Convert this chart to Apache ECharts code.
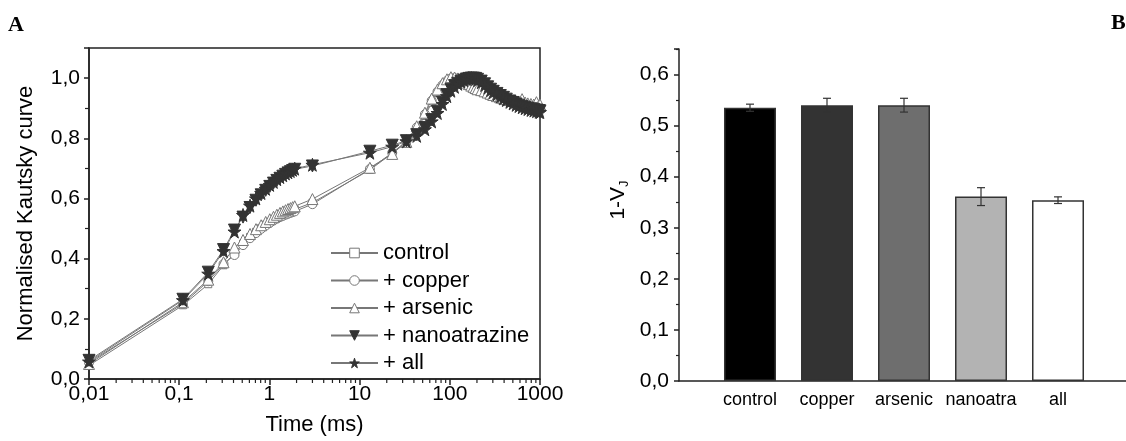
<!DOCTYPE html>
<html>
<head>
<meta charset="utf-8">
<script src="https://cdn.jsdelivr.net/npm/echarts@6/dist/echarts.min.js"></script>
<style>
  html, body { margin: 0; padding: 0; background: #fff; }
  #chart { width: 1126px; height: 441px; }
</style>
</head>
<body>
<div id="chart"></div>
<script>
// panel A: time axis of the fluorescence transient (ms)
const timeMs = [0.01, 0.11, 0.21, 0.31, 0.41, 0.51, 0.61, 0.71, 0.81, 0.91,
  1.01, 1.11, 1.21, 1.31, 1.41, 1.51, 1.61, 1.71, 1.81, 1.91,
  3, 13, 23, 33, 43, 53, 63, 73, 83, 93,
  103, 113, 123, 133, 143, 153, 163, 173, 183, 193,
  203, 223, 243, 263, 283, 303, 333, 363, 393, 423,
  463, 503, 543, 583, 633, 683, 733, 793, 853, 913, 973, 1000];

const control = [0.045, 0.245, 0.315, 0.378, 0.418, 0.450, 0.472, 0.489, 0.502, 0.513,
  0.522, 0.530, 0.536, 0.542, 0.547, 0.551, 0.555, 0.558, 0.561, 0.564,
  0.586, 0.695, 0.750, 0.787, 0.832, 0.874, 0.918, 0.950, 0.973, 0.988,
  0.997, 1.000, 0.999, 0.996, 0.992, 0.988, 0.983, 0.978, 0.973, 0.969,
  0.965, 0.958, 0.952, 0.947, 0.943, 0.939, 0.935, 0.931, 0.928, 0.925,
  0.922, 0.919, 0.917, 0.915, 0.913, 0.911, 0.909, 0.907, 0.905, 0.903, 0.902, 0.901];

const copper = [0.055, 0.250, 0.325, 0.382, 0.412, 0.445, 0.468, 0.485, 0.499, 0.510,
  0.519, 0.527, 0.533, 0.538, 0.542, 0.546, 0.549, 0.552, 0.555, 0.557,
  0.581, 0.698, 0.752, 0.790, 0.836, 0.880, 0.925, 0.955, 0.977, 0.991,
  0.999, 1.000, 0.998, 0.995, 0.991, 0.986, 0.981, 0.976, 0.972, 0.968,
  0.963, 0.956, 0.950, 0.945, 0.941, 0.937, 0.933, 0.929, 0.926, 0.923,
  0.920, 0.917, 0.915, 0.913, 0.911, 0.909, 0.907, 0.905, 0.903, 0.901, 0.900, 0.899];

const arsenic = [0.050, 0.255, 0.330, 0.388, 0.437, 0.462, 0.482, 0.498, 0.511, 0.522,
  0.531, 0.539, 0.546, 0.552, 0.557, 0.561, 0.565, 0.568, 0.571, 0.574,
  0.598, 0.702, 0.748, 0.788, 0.840, 0.885, 0.932, 0.962, 0.983, 0.996,
  1.003, 1.002, 0.999, 0.995, 0.990, 0.985, 0.980, 0.975, 0.971, 0.967,
  0.963, 0.960, 0.956, 0.952, 0.948, 0.944, 0.940, 0.936, 0.933, 0.930,
  0.927, 0.925, 0.923, 0.921, 0.930, 0.919, 0.916, 0.914, 0.912, 0.920, 0.910, 0.912];

const nanoatrazine = [0.062, 0.265, 0.355, 0.430, 0.495, 0.538, 0.570, 0.594, 0.612, 0.627,
  0.640, 0.651, 0.660, 0.667, 0.674, 0.680, 0.685, 0.689, 0.693, 0.697,
  0.708, 0.757, 0.777, 0.792, 0.812, 0.836, 0.862, 0.890, 0.920, 0.945,
  0.963, 0.975, 0.983, 0.989, 0.993, 0.997, 0.999, 1.000, 1.000, 0.999,
  0.996, 0.990, 0.981, 0.971, 0.963, 0.956, 0.949, 0.942, 0.936, 0.930,
  0.924, 0.919, 0.914, 0.910, 0.906, 0.903, 0.900, 0.898, 0.896, 0.894, 0.892, 0.891];

const allTreat = [0.058, 0.262, 0.350, 0.425, 0.490, 0.545, 0.576, 0.600, 0.618, 0.632,
  0.645, 0.655, 0.664, 0.671, 0.677, 0.683, 0.687, 0.691, 0.695, 0.699,
  0.712, 0.752, 0.772, 0.790, 0.808, 0.830, 0.856, 0.884, 0.914, 0.940,
  0.958, 0.971, 0.981, 0.988, 0.993, 0.997, 1.000, 1.000, 0.999, 0.997,
  0.993, 0.986, 0.977, 0.968, 0.960, 0.953, 0.946, 0.939, 0.933, 0.927,
  0.921, 0.916, 0.911, 0.907, 0.903, 0.900, 0.897, 0.894, 0.892, 0.890, 0.888, 0.887];

const legendNames = ['control', '+ copper', '+ arsenic', '+ nanoatrazine', '+ all'];

// minor ticks of the log time axis
const timeMinorTicks = [0.02, 0.03, 0.04, 0.05, 0.06, 0.07, 0.08, 0.09,
  0.2, 0.3, 0.4, 0.5, 0.6, 0.7, 0.8, 0.9,
  2, 3, 4, 5, 6, 7, 8, 9,
  20, 30, 40, 50, 60, 70, 80, 90,
  200, 300, 400, 500, 600, 700, 800, 900];

// panel B: 1-VJ
const barCats = ['control', 'copper', 'arsenic', 'nanoatra', 'all'];
const barValues = [0.535, 0.540, 0.540, 0.361, 0.354];
const barErrors = [0.007, 0.0135, 0.0135, 0.0175, 0.0065];

const barColors = ['#000000', '#333333', '#6e6e6e', '#b3b3b3', '#ffffff'];
const FONT = 'Liberation Sans';
const STAR = 'path://M50,0 L61,35 L98,35 L68,57 L79,91 L50,70 L21,91 L32,57 L2,35 L39,35 Z';

const comma = (v, d) => (d == null ? String(Number(v.toPrecision(6))) : v.toFixed(d)).replace('.', ',');

const lineStyles = [
  { symbol: 'rect', size: 7, fill: '#fff', stroke: '#777', rot: 0 },
  { symbol: 'circle', size: 9, fill: '#fff', stroke: '#777', rot: 0 },
  { symbol: 'triangle', size: 11, fill: '#fff', stroke: '#777', rot: 0 },
  { symbol: 'triangle', size: 12, fill: '#333', stroke: '#333', rot: 180 },
  { symbol: STAR, size: 13, fill: '#333', stroke: '#333', rot: 0 }
];
const lineData = [control, copper, arsenic, nanoatrazine, allTreat];

const lineSeries = lineData.map((vals, i) => ({
  name: legendNames[i],
  type: 'line',
  xAxisIndex: 0,
  yAxisIndex: 0,
  data: timeMs.map((t, j) => [t, vals[j]]),
  symbol: lineStyles[i].symbol,
  symbolSize: lineStyles[i].size,
  symbolRotate: lineStyles[i].rot,
  showAllSymbol: true,
  lineStyle: { color: '#777', width: 1 },
  itemStyle: { color: lineStyles[i].fill, borderColor: lineStyles[i].stroke, borderWidth: 1 },
  emphasis: { disabled: true }
}));

const axisLine = { show: true, lineStyle: { color: '#222', width: 1.5 } };

const chart = echarts.init(document.getElementById('chart'));
chart.setOption({
  animation: false,
  textStyle: { fontFamily: FONT },
  graphic: [
    { type: 'text', left: 8, top: 14, style: { text: 'A', font: 'bold 22px "Liberation Serif"', fill: '#000' } },
    { type: 'text', left: 1111, top: 12, style: { text: 'B', font: 'bold 22px "Liberation Serif"', fill: '#000' } }
  ],
  legend: {
    data: legendNames,
    orient: 'vertical',
    left: 325,
    top: 237,
    itemWidth: 47,
    itemHeight: 12,
    itemGap: 5.5,
    itemStyle: { borderWidth: 1 },
    textStyle: { fontSize: 22, color: '#000', fontFamily: FONT, lineHeight: 22 }
  },
  grid: [
    { left: 89, top: 48, width: 451, height: 331, show: true, borderColor: '#222', borderWidth: 1.5 },
    { left: 679, top: 49, right: 0, bottom: 60 }
  ],
  xAxis: [
    {
      type: 'log', gridIndex: 0, logBase: 10, min: 0.01, max: 1000, position: 'bottom',
      name: 'Time (ms)', nameLocation: 'middle', nameGap: 35,
      nameTextStyle: { fontSize: 22, color: '#000' },
      axisLine: axisLine,
      axisTick: { length: 6, lineStyle: { color: '#222', width: 1.5 } },
      axisLabel: { fontSize: 21, color: '#000', margin: 5, formatter: v => comma(v) },
      splitLine: { show: false }
    },
    {
      type: 'value', gridIndex: 1, min: 0.078, max: 5.883,
      axisLine: axisLine,
      axisTick: { show: false },
      axisLabel: {
        customValues: [1, 2, 3, 4, 5],
        fontSize: 18, color: '#000', margin: 10,
        formatter: v => barCats[Math.round(v) - 1]
      },
      splitLine: { show: false }
    }
  ],
  yAxis: [
    {
      type: 'value', gridIndex: 0, min: 0, max: 1.1, interval: 0.2,
      name: 'Normalised Kautsky curve', nameLocation: 'middle', nameGap: 52,
      nameTextStyle: { fontSize: 22, color: '#000' },
      axisLine: axisLine,
      axisTick: { length: 5, lineStyle: { color: '#222', width: 1.5 } },
      minorTick: { show: true, splitNumber: 2, length: 4, lineStyle: { color: '#222', width: 1.2 } },
      axisLabel: { fontSize: 21, color: '#000', margin: 9, showMaxLabel: false, formatter: v => comma(v, 1) },
      splitLine: { show: false }
    },
    {
      type: 'value', gridIndex: 1, min: 0, max: 0.65, interval: 0.1,
      name: '{a|1-V}{b|J}', nameLocation: 'middle', nameGap: 48,
      nameTextStyle: {
        color: '#000', padding: [0, 0, 0, 30],
        rich: {
          a: { fontSize: 21, fontFamily: FONT, color: '#000', lineHeight: 26 },
          b: { fontSize: 13, fontFamily: FONT, color: '#000', lineHeight: 13, verticalAlign: 'bottom' }
        }
      },
      axisLine: axisLine,
      axisTick: { length: 5, lineStyle: { color: '#222', width: 1.5 } },
      minorTick: { show: true, splitNumber: 2, length: 3, lineStyle: { color: '#222', width: 1.2 } },
      axisLabel: { fontSize: 21, color: '#000', margin: 10, showMaxLabel: false, formatter: v => comma(v, 1) },
      splitLine: { show: false }
    }
  ],
  series: lineSeries.concat([
    {
      // minor ticks of the log time axis, placed through the axis scale
      type: 'custom',
      xAxisIndex: 0,
      yAxisIndex: 0,
      clip: false,
      silent: true,
      encode: { x: 0, y: 1 },
      data: timeMinorTicks.map(v => [v, 0]),
      renderItem: (params, api) => {
        const p = api.coord([api.value(0), api.value(1)]);
        return {
          type: 'line',
          shape: { x1: p[0], y1: p[1], x2: p[0], y2: p[1] + 4 },
          style: { stroke: '#222', lineWidth: 1.2 }
        };
      }
    },
    {
      type: 'bar',
      xAxisIndex: 1,
      yAxisIndex: 1,
      barWidth: 52,
      data: barValues.map((v, i) => ({ value: [i + 1, v], itemStyle: { color: barColors[i] } })),
      itemStyle: { borderColor: '#333', borderWidth: 1.5 },
      emphasis: { disabled: true }
    },
    {
      type: 'custom',
      xAxisIndex: 1,
      yAxisIndex: 1,
      z: 10,
      encode: { x: 0, y: [1, 2] },
      data: barValues.map((v, i) => [i + 1, v - barErrors[i], v + barErrors[i]]),
      renderItem: (params, api) => {
        const lo = api.coord([api.value(0), api.value(1)]);
        const hi = api.coord([api.value(0), api.value(2)]);
        const w = 4;
        const st = { stroke: '#333', lineWidth: 1.2 };
        return {
          type: 'group',
          children: [
            { type: 'line', shape: { x1: lo[0], y1: lo[1], x2: hi[0], y2: hi[1] }, style: st },
            { type: 'line', shape: { x1: lo[0] - w, y1: lo[1], x2: lo[0] + w, y2: lo[1] }, style: st },
            { type: 'line', shape: { x1: hi[0] - w, y1: hi[1], x2: hi[0] + w, y2: hi[1] }, style: st }
          ]
        };
      }
    }
  ])
});
</script>
</body>
</html>
